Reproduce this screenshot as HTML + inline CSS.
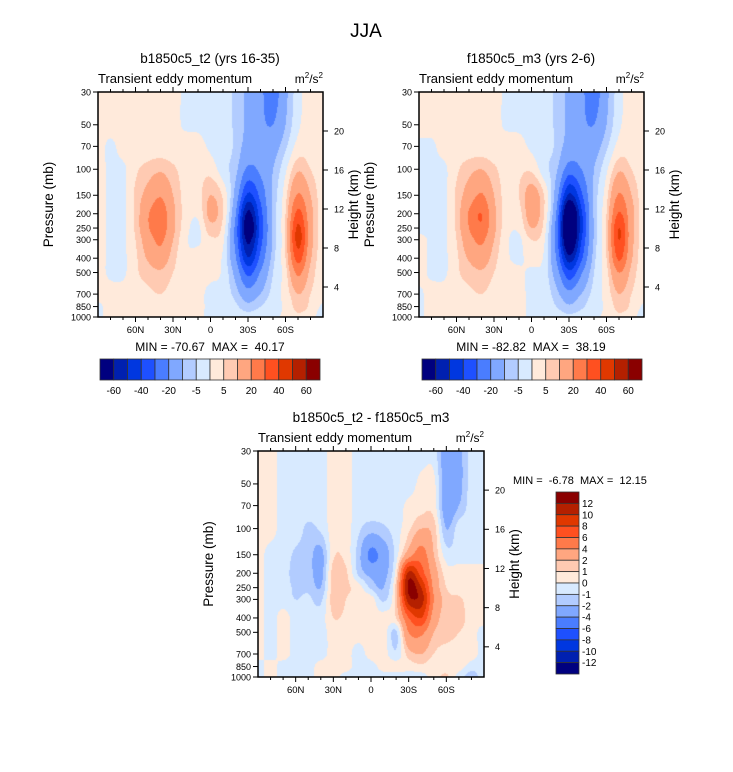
<!DOCTYPE html>
<html><head><meta charset="utf-8">
<style>
html,body{margin:0;padding:0;background:#fff;}
#root{position:relative;width:733px;height:772px;overflow:hidden;font-family:"Liberation Sans",sans-serif;}
canvas{position:absolute;}
svg{position:absolute;left:0;top:0;}
text{white-space:pre;}
</style></head>
<body>
<div id="root">
<canvas id="c1" width="225" height="225" style="left:98px;top:92px"></canvas>
<canvas id="c2" width="225" height="225" style="left:419px;top:92px"></canvas>
<canvas id="c3" width="226" height="226" style="left:258px;top:451px"></canvas>
<svg id="s" width="733" height="772"></svg>
</div>
<script>
// ---- data ----
const latLabels = ["90N","80N","70N","60N","50N","40N","30N","20N","10N","0","10S","20S","30S","40S","50S","60S","70S","80S","90S"];
const pressureLevels = [30,50,70,100,150,200,250,300,400,500,700,850,1000];
const pressureTicks = [30,50,70,100,150,200,250,300,400,500,700,850,1000];
const heightTicks = [4,8,12,16,20];
const xTickLabels = ["60N","30N","0","30S","60S"];
const xTickLats = [60,30,0,-30,-60];
const levelsTop = [-60,-50,-40,-30,-20,-10,-5,0,5,10,20,30,40,50,60];
const levelsTopLabels = ["-60","-40","-20","-5","5","20","40","60"];
const levelsDiff = [-12,-10,-8,-6,-4,-2,-1,0,1,2,4,6,8,10,12];
const fieldB = [
[2,2,2,2,2,2,2,-1,-1,-2,-3,-6,-12,-18,-25,-12,-2,2,2],
[2,2,2,2,2,2,2,-1,-1,-2,-3,-6,-12,-18,-20,-10,-1,2,2],
[2,-1,2,2,2,2,2,3,2,-1,-3,-6,-14,-16,-14,-6,2,3,2],
[2,-1,-1,4,7,9,6,3,3,3,-3,-8,-22,-18,-10,-1,9,5,2],
[2,-1,-1,6,13,19,10,3,3,10,4,-13,-42,-27,-9,3,21,10,2],
[2,-1,-1,6,19,26,12,3,1,12,5,-19,-63,-34,-9,5,33,13,2],
[2,-1,-1,6,19,26,12,2,-1,8,3,-23,-71,-37,-9,6,42,14,2],
[2,-1,-1,5,15,22,10,1,-1,4,1,-23,-63,-34,-9,6,44,14,2],
[2,-1,-1,4,11,15,7,1,2,2,-1,-19,-49,-27,-7,5,34,11,2],
[2,-1,-1,4,7,9,5,2,1,1,-1,-13,-33,-19,-5,3,22,8,2],
[2,2,2,3,4,5,3,1,1,-1,-2,-7,-16,-10,-3,2,10,5,2],
[-1,2,2,2,3,3,2,1,1,-1,-2,-4,-8,-5,-2,1,7,4,-1],
[-1,2,2,2,3,5,2,1,1,-1,-1,-2,-3,-2,-1,1,4,2,-3]];
const fieldF = [
[2,2,2,2,2,2,2,-1,-1,-2,-3,-6,-12,-18,-25,-12,-2,2,2],
[2,2,2,2,2,2,2,-1,-1,-2,-3,-6,-12,-18,-20,-10,-1,2,2],
[-1,-1,2,2,2,2,2,3,2,-1,-3,-6,-14,-16,-14,-6,2,3,2],
[-1,-1,-1,4,8,10,6,3,4,4,-3,-9,-25,-20,-10,-1,9,5,2],
[-1,-1,-1,6,14,21,10,3,5,14,5,-15,-52,-32,-9,3,21,10,2],
[-2,-1,-1,6,21,30,12,3,3,14,5,-21,-80,-42,-9,5,31,13,2],
[-2,-1,-1,6,20,28,12,2,1,10,3,-25,-83,-44,-9,6,40,13,2],
[2,-1,-1,5,16,22,10,1,-1,5,1,-25,-78,-40,-9,6,40,13,2],
[2,-1,-1,4,11,15,7,1,-1,2,-1,-21,-56,-32,-7,5,32,11,2],
[2,-1,-1,4,7,9,5,2,1,-1,-2,-15,-37,-21,-5,3,20,8,2],
[-1,2,2,3,4,5,3,1,1,-1,-2,-8,-17,-10,-3,2,10,5,2],
[-1,2,2,2,3,3,2,1,1,-1,-3,-5,-9,-6,-2,1,7,4,-1],
[-1,2,2,2,3,5,2,1,1,-1,-2,-3,-4,-3,-1,1,4,2,-3]];
const fieldDiff = [
[0.5,0.5,-0.5,-0.5,-0.5,-0.5,0.5,0.5,-0.5,-0.5,-0.5,-0.5,-0.5,-0.5,-0.5,-3,-2.5,-0.5,-0.5],
[0.5,0.5,-0.5,-0.5,-0.5,-0.5,0.5,0.5,-0.5,-0.5,-0.5,-0.5,-0.5,0.3,0.3,-3,-2.5,-0.5,-0.5],
[0.5,0.5,-0.5,-0.5,-0.5,-0.5,0.5,0.5,-0.5,-0.5,-0.5,-0.5,0.3,0.6,0.5,-3,-2,-0.5,-0.5],
[0.5,0.5,-0.5,-0.5,-1.2,-0.8,0.5,0.5,-0.8,-1.5,-1.2,-0.5,0.8,2,1.5,-2,-0.5,-0.5,-0.5],
[0.5,-0.5,-0.5,-1.2,-1.5,-2.5,0.8,0.6,-1.5,-4.5,-3,-0.5,3,5,2,-0.5,-0.5,-0.5,-0.5],
[0.5,-0.5,-0.5,-1.5,-1.5,-2.5,1.5,1.2,-1.2,-2.5,-2.5,0.5,10.5,7,3,0.5,0.5,0.5,0.5],
[0.5,-0.5,-0.5,-1.2,-1.2,-2,1.5,1.2,0.5,-1.2,-2,1.5,12.5,10,3.5,1,0.5,0.5,0.5],
[0.5,-0.5,-0.5,-1,-0.8,-1.2,1.5,1,0.5,0.5,-1.2,1.5,11,11,4,1.5,1.2,0.5,0.5],
[0.5,-0.5,0.5,-0.5,-0.5,-0.5,1,0.8,0.5,0.5,0.5,1,6,8,3,1.5,1.5,0.5,0.5],
[0.5,-0.5,0.5,-0.5,-0.5,-0.5,0.5,0.5,0.5,0.5,0.5,-1.2,4,4.5,2,1.5,1,0.5,-0.5],
[0.5,-0.5,0.5,-0.5,-0.5,-0.5,0.5,0.5,-0.5,0.5,0.5,-0.8,1.5,2,1,0.5,0.5,0.5,-0.5],
[-0.5,0.5,-0.5,-0.5,-0.5,0.5,0.5,0.5,-0.5,-0.5,0.5,0.5,0.5,0.8,0.5,0.5,0.5,-0.5,-0.5],
[-0.5,0.5,-0.5,-0.5,-0.5,0.5,0.5,-0.5,-0.5,-0.5,-0.5,-0.5,-0.5,-0.5,0.5,1.2,-0.5,-1.5,-0.5]];
const palette = ["#00007f","#0020b0","#0037e0","#1e50ff","#4a7dff","#80a8ff","#b2ccff","#d8eaff","#ffeadb","#ffcab2","#ffa680","#ff7a4a","#ff5020","#e03800","#b42000","#8a0000"];

// ---- helpers ----
const NS="http://www.w3.org/2000/svg";
const svg=document.getElementById('s');
function mk(tag,attrs,parent){const e=document.createElementNS(NS,tag);for(const k in attrs)e.setAttribute(k,attrs[k]);(parent||svg).appendChild(e);return e;}
function txt(x,y,s,size,anchor,name,extra){const t=mk('text',Object.assign({x:x,y:y,'font-size':size,'text-anchor':anchor||'start','font-family':'Liberation Sans, sans-serif',fill:'#000'},extra||{}));t.textContent=s;return t;}
function cr(t){return [-0.5*t*t*t+t*t-0.5*t, 1.5*t*t*t-2.5*t*t+1, -1.5*t*t*t+2*t*t+0.5*t, 0.5*t*t*t-0.5*t*t];}
function sample(g,r,c){const R=g.length,C=g[0].length;const r0=Math.floor(r),c0=Math.floor(c);const wr=cr(r-r0),wc=cr(c-c0);let s=0;for(let i=0;i<4;i++){const ri=Math.min(R-1,Math.max(0,r0-1+i));for(let j=0;j<4;j++){const cj=Math.min(C-1,Math.max(0,c0-1+j));s+=wr[i]*wc[j]*g[ri][cj];}}return s;}
function hex(h){return [parseInt(h.slice(1,3),16),parseInt(h.slice(3,5),16),parseInt(h.slice(5,7),16)];}
const palRGB=palette.map(hex);
const lp=pressureLevels.map(p=>Math.log(p));
function rowOf(logp){for(let i=0;i<lp.length-1;i++){if(logp<=lp[i+1])return i+(logp-lp[i])/(lp[i+1]-lp[i]);}return lp.length-1;}
function drawField(id,grid,levels){
  const cv=document.getElementById(id),ctx=cv.getContext('2d');const W=cv.width,H=cv.height;
  const img=ctx.createImageData(W,H);
  const a=Math.log(30),b=Math.log(1000);
  for(let y=0;y<H;y++){const logp=a+(y+0.5)/H*(b-a);const r=rowOf(logp);
    for(let x=0;x<W;x++){const c=(x+0.5)/W*(latLabels.length-1);const v=sample(grid,r,c);
      let k=0;while(k<levels.length&&v>=levels[k])k++;const col=palRGB[k];const o=(y*W+x)*4;
      img.data[o]=col[0];img.data[o+1]=col[1];img.data[o+2]=col[2];img.data[o+3]=255;}}
  ctx.putImageData(img,0,0);
}
function axes(x0,y0,w,h,pfx){
  const xs=lat=>x0+(90-lat)/180*w;
  const ys=p=>y0+Math.log(p/30)/Math.log(1000/30)*h;
  const hy=km=>y0+h+9-km*9.75*h/225;
  const g=mk('g',{});
  mk('rect',{x:x0,y:y0,width:w,height:h,fill:'none',stroke:'#000','stroke-width':1.5},g);
  for(let lat=80;lat>=-80;lat-=10){const x=xs(lat);const major=lat%30===0;const L=major?5:3;
    mk('line',{x1:x,y1:y0+h,x2:x,y2:y0+h+L,stroke:'#000','stroke-width':1},g);
    mk('line',{x1:x,y1:y0,x2:x,y2:y0-L,stroke:'#000','stroke-width':1},g);}
  xTickLats.forEach((lat,i)=>txt(xs(lat),y0+h+16,xTickLabels[i],9.5,'middle',pfx+'-x-tick-label'));
  pressureTicks.forEach(p=>{const y=ys(p);mk('line',{x1:x0-5,y1:y,x2:x0,y2:y,stroke:'#000','stroke-width':1},g);txt(x0-7,y+3.3,String(p),9,'end',pfx+'-pressure-tick-label');});
  heightTicks.forEach(km=>{const y=hy(km);mk('line',{x1:x0+w,y1:y,x2:x0+w+5,y2:y,stroke:'#000','stroke-width':1},g);txt(x0+w+11,y+3.3,String(km),9,'start',pfx+'-height-tick-label');});
  txt(0,0,'Pressure (mb)',13.5,'middle',pfx+'-y-axis-title',{transform:`translate(${x0-45},${y0+h/2}) rotate(-90)`});
  txt(0,0,'Height (km)',13.5,'middle',pfx+'-right-axis-title',{transform:`translate(${x0+w+35},${y0+h/2}) rotate(-90)`});
  txt(x0,y0-9,'Transient eddy momentum',13,'start',pfx+'-subtitle');
  const u=txt(x0+w,y0-9,'',12,'end',pfx+'-units');
  u.innerHTML='m<tspan dy="-5" font-size="8">2</tspan><tspan dy="5">/s</tspan><tspan dy="-5" font-size="8">2</tspan>';
}
function hbar(x0,y0,w,h,pfx){
  const n=palette.length,bw=w/n;
  palette.forEach((c,i)=>{const r=mk('rect',{x:x0+i*bw,y:y0,width:bw,height:h,fill:c,stroke:'#333','stroke-width':0.8});});
  levelsTopLabels.forEach((s,i)=>txt(x0+(2*i+1)*bw,y0+h+14,s,10,'middle',pfx+'-colorbar-label'));
}
function vbar(x0,y0,w,h,pfx){
  const n=palette.length,bh=h/n;
  palette.slice().reverse().forEach((c,i)=>{const r=mk('rect',{x:x0,y:y0+i*bh,width:w,height:bh,fill:c,stroke:'#333','stroke-width':0.8});});
  levelsDiff.slice().reverse().forEach((v,i)=>txt(x0+w+3,y0+(i+1)*bh+3.5,String(v),10,'start',pfx+'-colorbar-label'));
}
drawField('c1',fieldB,levelsTop);
drawField('c2',fieldF,levelsTop);
drawField('c3',fieldDiff,levelsDiff);
txt(366,37,'JJA',19,'middle','main-title');
txt(210,63,'b1850c5_t2 (yrs 16-35)',13.5,'middle','panel1-title');
txt(531,63,'f1850c5_m3 (yrs 2-6)',13.5,'middle','panel2-title');
txt(371,422,'b1850c5_t2 - f1850c5_m3',13.5,'middle','panel3-title');
axes(98,92,225,225,'panel1');
axes(419,92,225,225,'panel2');
axes(258,451,226,226,'panel3');
txt(210,351,'MIN = -70.67  MAX =  40.17',12,'middle','panel1-minmax');
txt(531,351,'MIN = -82.82  MAX =  38.19',12,'middle','panel2-minmax');
txt(513,484,'MIN =  -6.78  MAX =  12.15',11,'start','panel3-minmax');
hbar(100,359,220,21,'panel1');
hbar(422,359,220,21,'panel2');
vbar(556,492,23,182,'panel3');
</script>
</body></html>
